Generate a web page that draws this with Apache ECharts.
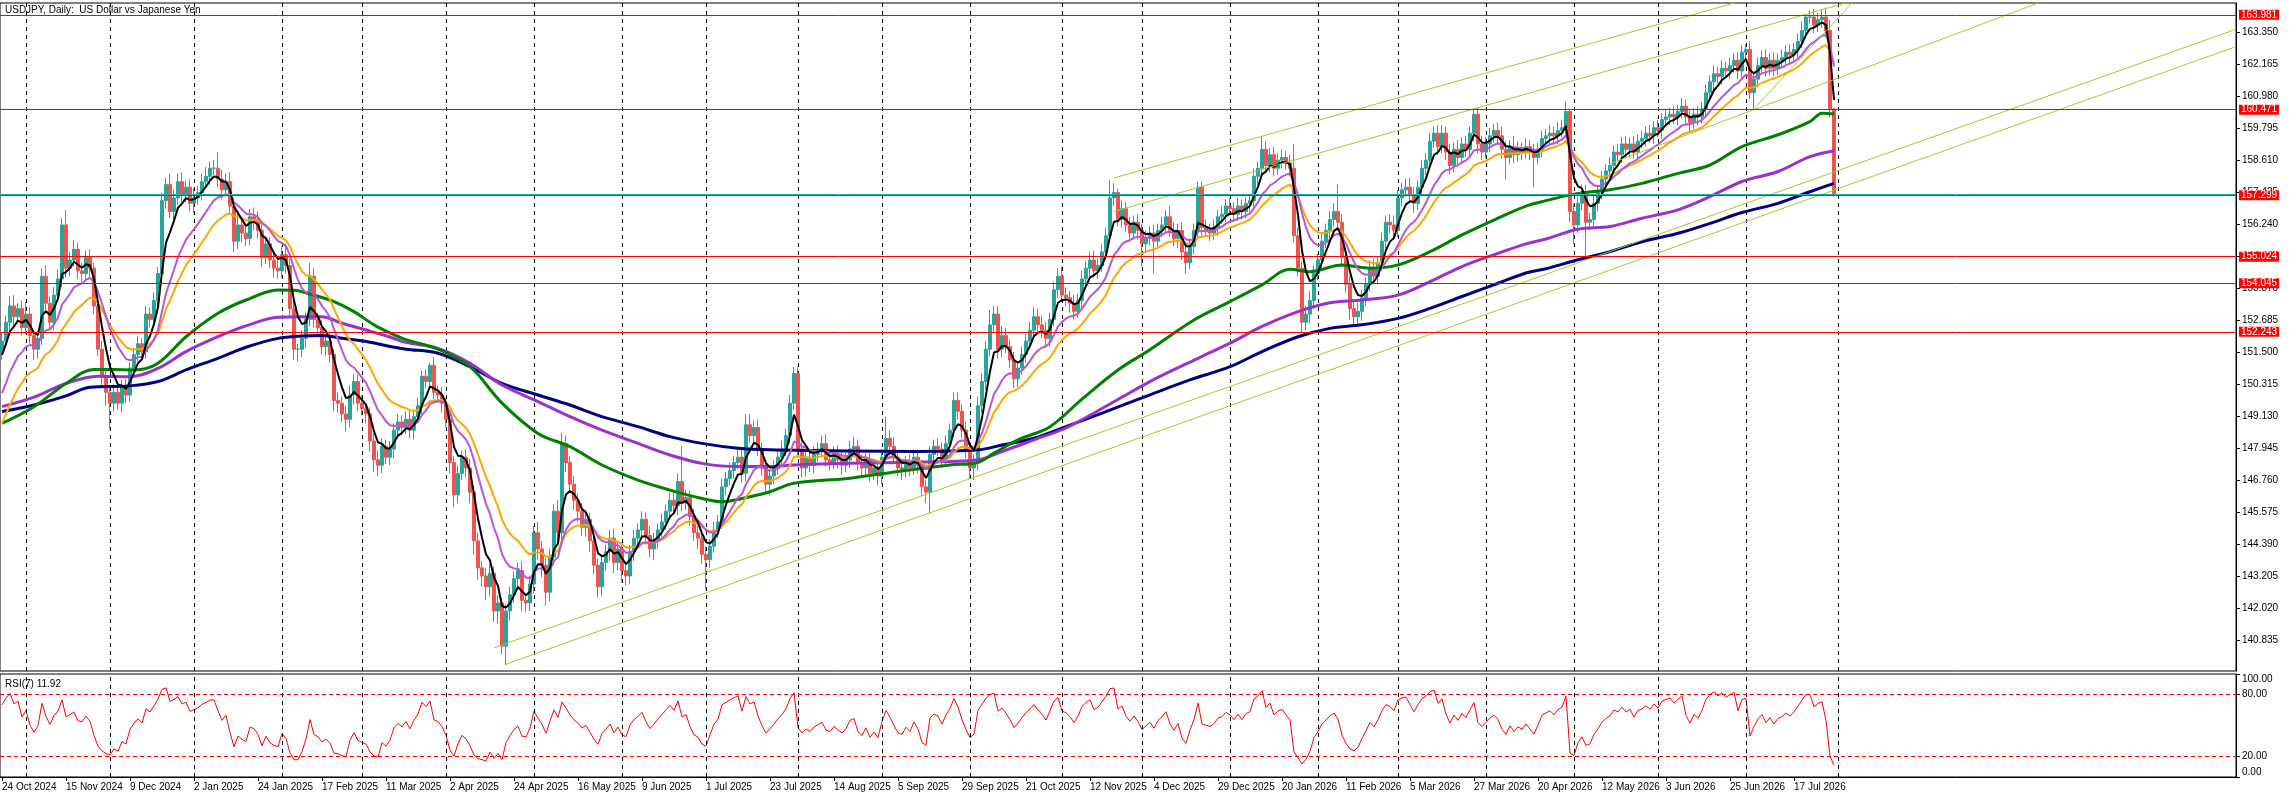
<!DOCTYPE html>
<html><head><meta charset="utf-8">
<script src="https://cdn.jsdelivr.net/npm/echarts@6/dist/echarts.min.js"></script>
<style>html,body{margin:0;padding:0;background:#fff}#c{width:2289px;height:798px}</style>
</head><body><div id="c"></div>
<script>
// ---------- DATA ----------
const chartTitle = 'USDJPY, Daily:  US Dollar vs Japanese Yen';
const rsiTitle = 'RSI(7) 11.92';
const firstOpen = 151.5;
const closes = [
151.9,152.6,153.2,152.8,153.1,152.4,152.9,152.1,151.6,152.0,154.3,153.3,152.6,153.6,154.2,156.2,154.6,154.9,155.3,154.5,
154.4,155.0,154.6,153.2,151.6,150.6,150.0,149.6,150.0,149.6,150.2,149.9,150.9,151.4,151.8,151.5,152.9,152.7,153.4,154.4,
157.1,157.7,156.7,157.2,157.8,157.3,157.6,157.0,157.2,157.4,157.8,158.0,158.3,158.3,157.9,157.5,157.8,156.9,155.6,156.2,
155.9,155.7,156.5,156.4,156.0,155.0,155.5,154.9,154.6,154.5,155.1,154.7,153.1,151.6,151.6,152.0,152.7,154.3,152.7,152.4,
151.7,151.9,151.4,149.7,149.6,149.2,149.0,149.9,150.4,149.6,149.4,149.2,148.2,147.5,147.3,148.0,147.6,147.9,148.6,148.9,
148.7,149.0,148.6,149.1,149.5,150.6,150.4,151.0,150.0,149.9,149.6,149.0,147.4,146.2,147.0,147.6,147.2,146.3,144.5,143.5,
143.2,142.8,143.3,141.9,142.2,140.6,141.9,142.5,143.1,143.4,142.3,142.2,142.9,144.8,144.2,143.6,142.6,143.9,145.6,144.8,
148.1,147.4,146.6,146.0,145.6,145.0,145.3,144.5,143.6,142.8,143.7,144.1,144.6,143.7,144.2,143.4,143.2,144.1,144.6,144.9,
145.3,144.7,144.2,144.5,144.9,145.2,145.6,146.0,145.8,146.7,145.9,146.1,145.4,144.8,144.6,144.0,143.8,144.3,144.9,145.2,
146.5,146.8,147.1,147.4,147.6,147.0,148.8,148.4,148.7,147.9,147.2,146.6,146.9,147.2,147.6,147.9,148.4,149.6,150.7,147.9,
147.2,147.6,147.3,147.7,147.9,148.1,147.5,147.4,147.7,147.5,147.3,147.5,147.9,148.0,147.4,147.2,147.5,147.0,147.2,146.9,
147.6,148.3,148.0,147.6,147.2,147.1,147.4,147.2,147.6,147.3,146.5,146.3,147.7,148.0,147.9,147.5,148.1,148.6,149.7,149.3,
148.6,147.9,147.2,147.4,149.5,150.4,151.6,152.5,152.9,151.6,152.1,151.7,151.2,150.5,150.9,151.4,151.9,152.3,152.8,152.5,
152.3,152.0,152.7,153.8,154.3,153.6,153.5,153.3,153.0,153.4,154.2,154.6,154.9,154.5,154.7,155.2,155.8,157.2,157.4,156.4,
156.8,156.2,155.9,156.3,156.0,155.5,155.7,155.9,155.6,156.0,156.2,156.5,156.0,155.7,156.0,155.2,154.8,155.4,156.0,157.6,
156.1,156.0,155.9,156.1,156.5,156.6,156.9,156.8,156.6,156.9,156.7,157.0,157.1,158.0,158.3,159.0,158.4,158.8,158.3,158.6,
158.7,158.5,158.3,155.8,154.6,152.6,152.9,153.4,154.4,154.9,155.6,156.0,156.4,156.7,156.3,155.0,154.0,153.1,152.8,153.0,
153.5,154.0,154.6,154.3,154.8,155.6,156.3,156.2,156.0,157.2,157.5,157.6,157.3,157.0,157.6,158.3,158.6,159.3,159.6,159.1,
159.6,158.9,158.4,159.0,158.7,159.2,159.0,159.6,160.3,159.2,158.9,159.2,159.5,159.7,159.5,159.0,158.7,159.1,158.8,159.0,
158.9,159.1,158.9,158.7,159.0,159.4,159.5,159.6,159.5,159.7,159.8,160.4,156.7,156.2,157.0,157.4,156.3,156.4,157.0,157.4,
157.9,158.2,158.4,158.9,158.8,159.2,159.0,159.2,158.9,159.3,159.4,159.6,159.5,159.8,159.7,160.1,160.2,160.3,160.2,160.4,
160.6,160.2,160.0,160.3,160.2,160.5,161.1,161.5,161.8,161.7,162.0,161.9,162.1,162.3,161.9,162.6,162.7,161.1,161.6,162.1,
162.4,162.0,162.3,162.0,162.3,162.4,162.6,162.5,162.7,163.0,163.4,163.9,163.9,163.6,163.8,163.9,163.4,160.5,157.35
];
// wick lengths above / below the candle body, in hundredths of a yen
const upperWick = [
30,25,35,40,20,30,45,25,20,30,30,40,25,30,35,25,55,30,35,25,
30,25,30,20,25,30,20,25,30,20,25,30,20,25,30,20,30,25,30,25,
30,25,40,30,30,35,25,30,35,25,30,35,25,30,60,35,30,35,30,40,
30,25,30,35,30,25,30,25,30,35,30,40,25,30,20,30,25,50,30,25,
30,25,35,20,30,25,30,35,30,25,30,20,25,30,35,30,25,30,25,30,
25,30,35,25,30,20,25,10,30,25,30,20,30,25,30,25,30,35,25,30,
25,30,35,25,30,20,25,30,25,30,35,25,30,25,40,30,25,30,25,40,
40,30,25,30,25,30,35,25,30,25,30,25,30,35,30,25,30,25,30,25,
30,25,35,30,25,30,25,30,35,30,130,30,25,30,25,20,30,25,30,25,
30,25,30,25,30,35,40,40,25,30,25,20,25,30,25,30,25,30,25,25,
25,30,25,30,25,30,35,25,30,35,30,25,30,35,25,30,25,30,25,30,
30,80,30,35,25,30,25,30,25,30,20,25,30,25,30,25,30,25,30,30,
25,30,25,30,35,30,30,55,30,30,35,30,25,30,25,30,25,30,35,30,
35,30,25,30,30,35,30,25,30,25,30,25,30,35,25,30,30,67,35,15,
30,25,30,25,30,25,30,25,30,25,30,25,40,30,25,30,25,30,25,20,
20,30,25,30,25,30,25,30,25,30,25,20,25,30,25,47,30,25,30,25,
30,25,30,90,30,25,30,35,30,25,30,25,30,30,100,30,25,30,35,30,
30,25,30,35,25,30,25,30,35,30,25,30,35,30,25,30,25,30,25,30,
30,25,30,25,35,25,30,25,20,25,30,25,30,25,30,35,30,25,40,30,
25,30,25,30,25,30,25,30,25,30,30,37,10,30,25,30,30,25,30,25,
30,25,30,25,30,25,30,25,30,25,30,25,30,25,30,25,30,25,30,25,
30,25,30,25,30,25,30,25,30,25,30,25,30,25,30,25,20,30,25,30,
25,30,25,30,25,30,25,30,25,30,35,10,25,30,25,30,35,40,0
];
const lowerWick = [
30,25,30,35,25,30,25,30,40,35,25,30,25,30,25,30,35,30,25,30,
30,25,35,30,25,35,50,100,30,25,35,30,25,30,25,30,25,30,25,30,
25,30,25,30,25,30,25,30,35,25,30,25,30,25,30,35,25,30,40,30,
35,30,25,40,30,35,25,30,35,30,25,30,35,40,45,30,35,25,30,35,
30,35,30,40,35,30,45,30,35,30,25,35,40,45,40,30,25,30,35,25,
30,25,30,35,25,30,25,30,25,30,35,30,40,45,30,25,35,40,50,45,
40,50,35,40,45,30,70,35,30,35,40,35,30,35,40,45,50,35,30,35,
30,35,30,35,40,30,35,40,35,40,35,30,35,40,30,45,35,30,35,30,
30,35,30,40,30,25,30,25,30,35,30,25,35,30,40,35,110,30,25,30,
25,30,25,30,25,35,30,25,30,25,30,35,40,30,25,30,25,30,25,30,
35,30,25,30,25,30,25,30,25,30,35,25,30,25,30,35,25,30,25,35,
30,25,30,25,30,35,25,30,25,30,35,40,80,30,25,30,25,30,25,30,
30,35,40,45,30,25,30,25,30,35,30,25,30,35,30,25,30,25,30,25,
30,35,30,25,30,25,30,35,30,25,30,25,30,25,30,25,30,25,30,25,
30,25,30,25,35,84,30,25,120,30,25,30,25,30,35,30,40,25,30,25,
30,25,30,25,30,25,30,25,30,25,30,25,30,25,30,25,30,25,30,25,
30,25,30,25,30,40,30,35,30,25,30,25,30,25,30,35,30,40,35,30,
35,30,25,30,25,30,25,30,35,25,30,25,30,35,25,30,25,30,25,30,
25,30,35,25,30,25,30,25,30,35,30,25,30,25,30,35,80,25,30,25,
30,25,30,110,25,30,25,30,25,30,25,30,40,70,30,25,130,30,25,30,
25,30,25,30,25,30,25,30,25,30,25,30,25,30,25,30,25,30,25,30,
25,30,35,25,30,25,30,25,30,25,30,25,30,25,30,25,30,25,60,30,
25,30,25,30,25,30,25,30,25,30,25,30,25,30,25,30,25,30,10
];
// moving averages at sample bars: [barIndex, value]
const maGreen = [[0,148.85],[8,149.47],[16,150.33],[23,150.85],[28,150.85],[33,150.83],[39,151.08],[46,152.06],[54,152.93],[61,153.42],[69,153.79],[73,153.78],[78,153.6],[83,153.36],[88,152.99],[93,152.5],[97,152.2],[101,151.95],[109,151.6],[117,150.95],[125,149.6],[134,148.48],[142,147.99],[150,147.31],[159,146.75],[167,146.38],[175,146.07],[180,145.95],[185,146.07],[192,146.32],[198,146.63],[212,146.82],[224,147.07],[237,147.31],[244,147.4],[248,147.75],[254,148.24],[262,148.73],[270,149.75],[279,150.83],[287,151.58],[298,152.68],[307,153.36],[315,153.98],[322,154.56],[327,154.47],[335,154.72],[342,154.6],[349,154.72],[357,155.21],[365,155.83],[374,156.45],[381,156.9],[386,157.1],[394,157.37],[402,157.5],[410,157.74],[419,158.11],[427,158.42],[435,159.1],[444,159.54],[452,160.03],[455,160.34],[458,160.31]];
const maPurple = [[0,149.47],[8,149.82],[16,150.33],[24,150.6],[32,150.58],[39,150.89],[46,151.51],[54,152.06],[61,152.46],[69,152.78],[75,152.8],[80,152.8],[85,152.56],[91,152.31],[97,152.05],[101,151.85],[109,151.63],[117,151.08],[125,150.27],[134,149.66],[142,149.1],[150,148.6],[159,148.11],[167,147.68],[175,147.37],[184,147.25],[192,147.25],[198,147.31],[212,147.37],[237,147.44],[244,147.5],[250,147.81],[258,148.24],[266,148.68],[275,149.4],[287,150.4],[299,151.26],[307,151.82],[315,152.44],[324,152.99],[332,153.32],[340,153.42],[349,153.6],[357,154.1],[365,154.66],[374,155.15],[381,155.5],[386,155.68],[394,156.04],[402,156.14],[410,156.45],[419,156.76],[427,157.25],[435,157.81],[444,158.18],[452,158.73],[458,158.95]];
const maNavy = [[0,149.29],[8,149.53],[16,149.87],[22,150.19],[32,150.24],[39,150.4],[46,150.83],[54,151.26],[61,151.67],[69,152.0],[75,152.09],[80,152.11],[85,152.0],[91,151.88],[97,151.7],[101,151.6],[109,151.45],[117,150.95],[125,150.33],[134,149.9],[142,149.53],[150,149.1],[159,148.73],[167,148.36],[175,148.11],[184,147.93],[192,147.87],[212,147.83],[229,147.81],[244,147.87],[250,148.05],[258,148.3],[266,148.73],[275,149.23],[287,149.91],[297,150.46],[307,150.95],[315,151.51],[324,152.06],[332,152.37],[340,152.5],[349,152.74],[357,153.11],[365,153.55],[374,154.04],[381,154.42],[386,154.58],[394,154.91],[402,155.21],[410,155.58],[419,155.89],[427,156.26],[435,156.66],[444,157.0],[452,157.43],[458,157.74]];
// starting values of the fast averages at the first bar
const emaBlackStart = 151.39, emaVioletStart = 149.97, emaOrangeStart = 148.85;
const rsiStartGain = 0.28, rsiStartLoss = 0.12;
// horizontal levels and trend lines [startBar, startPrice, endBar, endPrice]
const levelLines = [163.981, 160.471, 157.299, 155.024, 154.045, 152.243];
const trendLines = [
  [123, 140.54, 558, 163.42],
  [126, 139.93, 558, 162.78],
  [278, 157.94, 558, 169.64],
  [278, 156.70, 558, 168.52],
  [438, 160.50, 470, 165.62],
  [402, 158.47, 558, 167.14]
];
const priceTicks = [140.835,142.020,143.205,144.390,145.575,146.760,147.945,149.130,150.315,151.500,152.685,153.870,155.055,156.240,157.425,158.610,159.795,160.980,162.165,163.350];
const rsiTicks = [0, 20, 80, 100];
const rsiLevels = [80, 20];
const xTickLabels = ['24 Oct 2024','15 Nov 2024','9 Dec 2024','2 Jan 2025','24 Jan 2025','17 Feb 2025','11 Mar 2025','2 Apr 2025','24 Apr 2025','16 May 2025','9 Jun 2025','1 Jul 2025','23 Jul 2025','14 Aug 2025','5 Sep 2025','29 Sep 2025','21 Oct 2025','12 Nov 2025','4 Dec 2025','29 Dec 2025','20 Jan 2026','11 Feb 2026','5 Mar 2026','27 Mar 2026','20 Apr 2026','12 May 2026','3 Jun 2026','25 Jun 2026','17 Jul 2026'];
const holidays = ['2024-12-25','2025-01-01','2025-12-25'];
const TOTAL_SLOTS = 559;   // bars plus empty chart-shift space
const LABEL_STEP = 16;

// ---------- calendar ----------
const MON = ['Jan','Feb','Mar','Apr','May','Jun','Jul','Aug','Sep','Oct','Nov','Dec'];
const cats = [], catMonth = [];
{
  const d = new Date(Date.UTC(2024, 9, 24));
  while (cats.length < TOTAL_SLOTS) {
    const wd = d.getUTCDay();
    const iso = d.toISOString().slice(0, 10);
    if (wd !== 0 && wd !== 6 && holidays.indexOf(iso) < 0) {
      cats.push(d.getUTCDate() + ' ' + MON[d.getUTCMonth()] + ' ' + d.getUTCFullYear());
      catMonth.push(d.getUTCFullYear() * 12 + d.getUTCMonth());
    }
    d.setUTCDate(d.getUTCDate() + 1);
  }
}
const monthStarts = [];
for (let i = 1; i <= closes.length; i++) if (catMonth[i] !== catMonth[i - 1]) monthStarts.push(i);

// ---------- derived ----------
const ohlc = closes.map((c, i) => {
  const o = i ? closes[i - 1] : firstOpen;
  return [o, c, Math.min(o, c) - lowerWick[i] / 100, Math.max(o, c) + upperWick[i] / 100];
});
function ema(src, n, start) {
  const a = 2 / (n + 1); let e = start;
  return src.map((v, i) => { if (i > 0) e = e + a * (v - e); return +e.toFixed(4); });
}
function rsi(src, n, g0, l0) {
  let ag = g0, al = l0; const out = [100 - 100 / (1 + ag / al)];
  for (let i = 1; i < src.length; i++) {
    const ch = src[i] - src[i - 1];
    ag = (ag * (n - 1) + Math.max(ch, 0)) / n;
    al = (al * (n - 1) + Math.max(-ch, 0)) / n;
    out.push(al === 0 ? 100 : +(100 - 100 / (1 + ag / al)).toFixed(2));
  }
  return out;
}
const emaBlack = ema(closes, 5, emaBlackStart);
const emaViolet = ema(closes, 13, emaVioletStart);
const emaOrange = ema(closes, 21, emaOrangeStart);
const rsiVals = rsi(closes, 7, rsiStartGain, rsiStartLoss);
const lastClose = closes[closes.length - 1];

// ---------- chart ----------
const FONT = "'Liberation Sans', Arial, sans-serif";
const showLabel = (idx) => idx % LABEL_STEP === 0 && idx / LABEL_STEP < xTickLabels.length;
const sepLine = { type: [4, 4], color: '#000', width: 1 };

const lineSeries = (data, color, width, z) => ({
  type: 'line', xAxisIndex: 0, yAxisIndex: 0, data, showSymbol: false, symbol: 'none',
  smooth: false, lineStyle: { color, width }, z, silent: true, clip: true
});
const sparseSeries = (data, color, width, z) => Object.assign(lineSeries(data, color, width, z), { smooth: 0.35 });

const option = {
  animation: false,
  backgroundColor: '#ffffff',
  textStyle: { fontFamily: FONT, color: '#000' },
  title: [
    { text: chartTitle, left: 5, top: 5, padding: 0, textStyle: { fontSize: 10, fontWeight: 'normal', color: '#000', fontFamily: FONT } },
    { text: rsiTitle, left: 5, top: 679, padding: 0, textStyle: { fontSize: 10, fontWeight: 'normal', color: '#000', fontFamily: FONT } }
  ],
  grid: [
    { left: 0, right: 53, top: 3, height: 668, show: true, borderColor: '#000', borderWidth: 1, backgroundColor: 'transparent', outerBoundsMode: 'none', containLabel: false },
    { left: 0, right: 53, top: 674, height: 103, show: true, borderColor: '#000', borderWidth: 1, backgroundColor: 'transparent', outerBoundsMode: 'none', containLabel: false }
  ],
  xAxis: [
    { type: 'category', gridIndex: 0, data: cats, boundaryGap: true, show: false },
    { type: 'category', gridIndex: 1, data: cats, boundaryGap: true,
      axisLine: { show: true, lineStyle: { color: '#000', width: 1 } },
      axisTick: { show: true, alignWithLabel: true, interval: showLabel, length: 4, lineStyle: { color: '#000' } },
      axisLabel: { show: true, interval: showLabel, align: 'left', margin: 5, fontSize: 10, color: '#000', fontFamily: FONT,
        formatter: (v, i) => xTickLabels[i / LABEL_STEP] || '' },
      splitLine: { show: false } }
  ],
  yAxis: [
    { type: 'value', gridIndex: 0, position: 'right', min: 139.68, max: 164.42,
      axisLine: { show: true, lineStyle: { color: '#000', width: 1 } },
      axisTick: { show: true, length: 4, customValues: priceTicks, lineStyle: { color: '#000' } },
      axisLabel: { show: true, customValues: priceTicks, formatter: (v) => v.toFixed(3), fontSize: 10, color: '#000', margin: 6, fontFamily: FONT },
      splitLine: { show: false } },
    { type: 'value', gridIndex: 1, position: 'right', min: 0, max: 100,
      axisLine: { show: true, lineStyle: { color: '#000', width: 1 } },
      axisTick: { show: true, length: 4, customValues: rsiTicks, lineStyle: { color: '#000' } },
      axisLabel: { show: true, customValues: rsiTicks, formatter: (v) => v.toFixed(2), fontSize: 10, color: '#000', margin: 6, fontFamily: FONT,
        verticalAlignMaxLabel: 'top', verticalAlignMinLabel: 'bottom' },
      splitLine: { show: false } }
  ],
  series: [
    { type: 'candlestick', name: 'USDJPY', xAxisIndex: 0, yAxisIndex: 0, data: ohlc, barWidth: 3, z: 2, silent: true,
      itemStyle: { color: '#26a69a', color0: '#ef5350', borderColor: '#26a69a', borderColor0: '#ef5350', borderWidth: 1 },
      markLine: { silent: true, symbol: 'none', z: 1, animation: false, label: { show: false },
        lineStyle: sepLine, data: monthStarts.map(i => ({ xAxis: i })) } },
    sparseSeries(maNavy, '#000080', 3, 3),
    sparseSeries(maPurple, '#9932cc', 3, 3),
    sparseSeries(maGreen, '#008000', 3, 3),
    lineSeries(emaOrange, '#ffa500', 2, 3),
    lineSeries(emaViolet, '#ba55d3', 2, 3),
    Object.assign(lineSeries(emaBlack, '#000000', 2, 3), {
      markLine: { silent: true, symbol: 'none', animation: false, precision: 3,
        data: [
          { yAxis: lastClose, lineStyle: { color: '#20b2aa', width: 1, type: 'solid' }, label: { show: false } }
        ].concat(levelLines.map(v => ({
          yAxis: v, lineStyle: { color: '#ff0000', width: 1, type: 'solid' },
          label: { show: true, position: 'end', distance: 3, formatter: () => v.toFixed(3),
            color: '#fff', backgroundColor: '#ff0000', fontSize: 10, fontFamily: FONT, padding: [0, 2, 0, 2], lineHeight: 10 }
        }))) } }),
    ...trendLines.map(t => lineSeries([[t[0], t[1]], [t[2], t[3]]], '#9acd32', 1, 4)),
    { type: 'line', xAxisIndex: 1, yAxisIndex: 1, data: rsiVals, showSymbol: false, symbol: 'none', silent: true,
      lineStyle: { color: '#ff0000', width: 1 }, z: 3,
      markLine: { silent: true, symbol: 'none', animation: false, label: { show: false },
        data: monthStarts.map(i => ({ xAxis: i, lineStyle: sepLine }))
          .concat(rsiLevels.map(v => ({ yAxis: v, lineStyle: { type: [4, 3], color: '#ff0000', width: 1 } }))) } }
  ]
};
const chart = echarts.init(document.getElementById('c'), null, { renderer: 'canvas' });
chart.setOption(option);
</script>
</body></html>
